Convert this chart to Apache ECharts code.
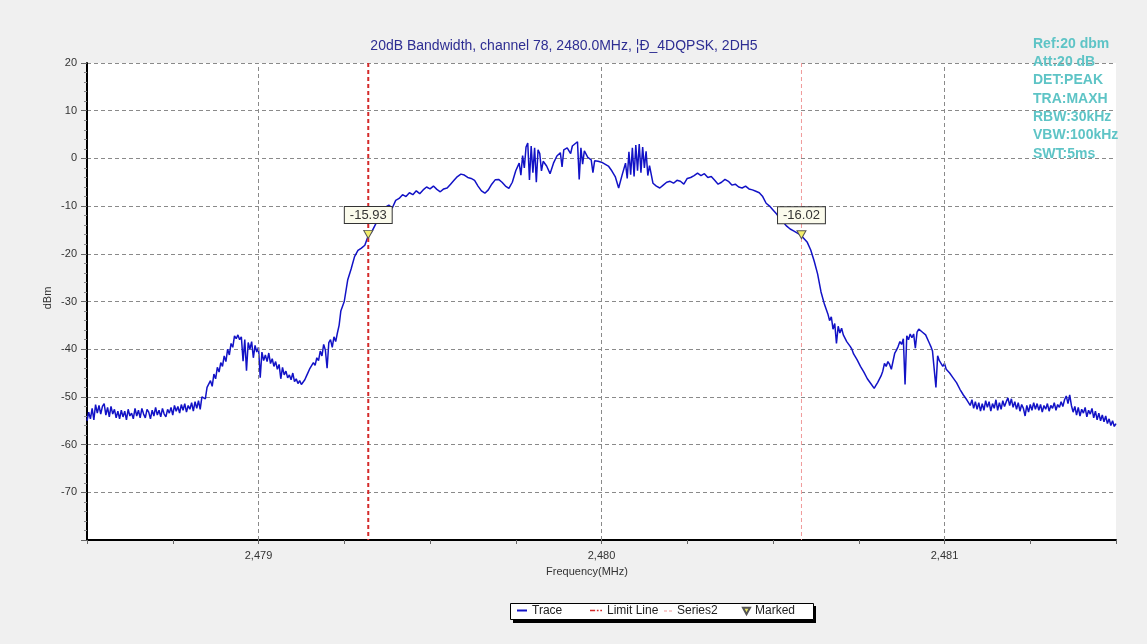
<!DOCTYPE html>
<html><head><meta charset="utf-8">
<script src="https://cdn.jsdelivr.net/npm/echarts@6/dist/echarts.min.js"></script>
<style>html,body{margin:0;padding:0;background:#f0f0f0}#c{width:1147px;height:644px}</style>
</head><body><div id="c"></div>
<script>
const titleText = '20dB Bandwidth, channel 78, 2480.0MHz, ¦Ð_4DQPSK, 2DH5';
const infoLines = ['Ref:20 dbm','Att:20 dB','DET:PEAK','TRA:MAXH','RBW:30kHz','VBW:100kHz','SWT:5ms'];
const xAxisName = 'Frequency(MHz)';
const yAxisName = 'dBm';
const gridFreqs = [2479, 2480, 2481];
const limitLine = [[2479.32, 20], [2479.32, -80]];
const series2Line = [[2480.583, 20], [2480.583, -80]];
const marked = [[2479.32, -15.93], [2480.583, -16.02]];
const trace = [
[2478.500,-55.0],[2478.505,-53.2],[2478.510,-54.6],[2478.515,-52.4],[2478.520,-54.8],[2478.525,-51.6],[2478.530,-53.4],[2478.535,-51.8],[2478.540,-53.6],[2478.545,-52.0],
[2478.550,-51.4],[2478.555,-53.8],[2478.560,-52.2],[2478.565,-54.2],[2478.570,-52.0],[2478.575,-53.6],[2478.580,-52.6],[2478.585,-54.4],[2478.590,-53.0],[2478.595,-54.6],
[2478.600,-52.8],[2478.605,-54.2],[2478.610,-53.0],[2478.615,-54.8],[2478.620,-52.6],[2478.625,-54.0],[2478.630,-53.4],[2478.635,-54.6],[2478.640,-52.4],[2478.645,-54.0],
[2478.650,-52.8],[2478.655,-54.4],[2478.660,-52.4],[2478.665,-53.6],[2478.670,-54.4],[2478.675,-52.6],[2478.680,-53.2],[2478.685,-54.6],[2478.690,-52.8],[2478.695,-54.0],
[2478.700,-52.2],[2478.705,-53.8],[2478.710,-52.8],[2478.715,-54.2],[2478.720,-52.4],[2478.725,-53.6],[2478.730,-54.2],[2478.735,-52.6],[2478.740,-53.4],[2478.745,-52.2],
[2478.750,-53.8],[2478.755,-51.8],[2478.760,-53.0],[2478.765,-52.0],[2478.770,-53.4],[2478.775,-51.6],[2478.780,-52.8],[2478.785,-51.4],[2478.790,-53.2],[2478.795,-51.8],
[2478.800,-52.6],[2478.805,-51.2],[2478.810,-53.0],[2478.815,-51.0],[2478.820,-52.4],[2478.825,-50.8],[2478.830,-52.6],[2478.835,-50.0],
[2478.840,-49.6],[2478.845,-50.4],[2478.850,-48.0],[2478.855,-47.6],[2478.860,-46.6],[2478.865,-47.8],[2478.870,-45.2],[2478.875,-46.2],[2478.880,-43.8],[2478.885,-44.8],
[2478.890,-42.8],[2478.895,-43.6],[2478.900,-41.4],[2478.905,-42.6],[2478.910,-40.0],[2478.915,-41.2],[2478.920,-38.8],[2478.925,-39.6],[2478.930,-37.2],[2478.935,-37.8],
[2478.940,-37.0],[2478.945,-38.0],[2478.950,-37.4],[2478.955,-42.5],[2478.960,-38.0],[2478.965,-44.5],[2478.970,-38.6],[2478.975,-40.0],[2478.980,-38.4],[2478.985,-41.8],
[2478.990,-39.2],[2478.995,-40.6],[2479.000,-39.6],[2479.005,-46.0],[2479.010,-40.6],[2479.015,-42.4],[2479.020,-41.2],[2479.025,-42.6],[2479.030,-40.8],[2479.035,-43.0],
[2479.040,-42.0],[2479.045,-43.6],[2479.050,-42.6],[2479.055,-44.2],[2479.060,-43.2],[2479.065,-46.2],[2479.070,-43.8],[2479.075,-45.4],[2479.080,-44.6],[2479.085,-46.0],
[2479.090,-45.4],[2479.095,-46.4],[2479.100,-45.0],[2479.105,-46.8],[2479.110,-46.2],[2479.115,-47.2],[2479.120,-46.6],[2479.125,-47.4],[2479.130,-47.0],[2479.135,-46.4],
[2479.140,-45.6],[2479.145,-44.8],[2479.150,-44.0],[2479.155,-43.6],[2479.160,-42.8],[2479.165,-43.4],[2479.170,-41.8],[2479.175,-42.4],[2479.180,-40.4],[2479.185,-41.4],
[2479.190,-39.0],[2479.195,-40.2],[2479.200,-44.0],[2479.205,-38.6],[2479.210,-38.0],[2479.215,-39.6],[2479.220,-37.4],[2479.225,-38.4],[2479.230,-36.6],[2479.235,-35.0],
[2479.240,-32.0],[2479.25,-30.0],
[2479.26,-25.5],[2479.27,-23.2],[2479.28,-20.6],[2479.29,-19.3],[2479.30,-18.8],[2479.31,-18.2],[2479.32,-16.2],[2479.33,-15.4],[2479.34,-14.0],[2479.35,-12.6],
[2479.36,-11.0],[2479.37,-10.2],[2479.38,-9.8],[2479.39,-10.4],[2479.40,-8.8],[2479.41,-8.4],[2479.42,-7.6],[2479.43,-8.0],[2479.44,-7.2],[2479.45,-7.6],
[2479.46,-6.8],[2479.47,-7.4],[2479.48,-6.6],[2479.49,-6.0],[2479.50,-6.4],[2479.51,-5.8],[2479.52,-6.5],[2479.53,-7.0],[2479.54,-6.4],[2479.55,-6.2],
[2479.56,-5.4],[2479.57,-4.6],[2479.58,-3.8],[2479.59,-3.3],[2479.60,-3.5],[2479.61,-4.0],[2479.62,-4.2],[2479.63,-4.6],[2479.64,-5.8],[2479.65,-6.8],
[2479.66,-7.3],[2479.67,-6.6],[2479.68,-5.4],[2479.69,-4.5],[2479.70,-4.4],[2479.71,-5.0],[2479.72,-5.8],[2479.73,-6.3],[2479.74,-5.0],[2479.75,-2.6],
[2479.76,-1.0],[2479.765,-3.5],[2479.77,0.6],[2479.775,-2.0],[2479.78,2.4],[2479.785,3.2],[2479.79,-4.5],[2479.795,2.6],[2479.80,-3.0],[2479.805,2.2],[2479.81,-5.0],[2479.815,1.8],
[2479.82,1.0],[2479.825,-2.6],[2479.83,-0.6],[2479.84,-1.6],[2479.85,-3.2],[2479.86,-1.0],[2479.87,0.5],[2479.88,1.2],[2479.885,-1.8],[2479.89,1.8],[2479.90,2.2],[2479.91,1.0],
[2479.915,2.6],[2479.92,2.8],[2479.93,3.5],[2479.935,-4.4],[2479.94,2.2],[2479.945,-1.2],[2479.95,1.6],[2479.96,0.2],[2479.97,-0.3],[2479.975,-3.0],[2479.98,-0.5],
[2479.99,-0.6],[2480.00,-0.8],[2480.01,-1.2],[2480.02,-1.6],[2480.03,-2.6],[2480.04,-3.8],[2480.05,-6.2],[2480.06,-3.5],[2480.07,-1.0],[2480.075,-4.2],[2480.08,1.4],[2480.085,-3.4],
[2480.09,2.2],[2480.095,-3.8],[2480.10,2.8],[2480.105,-2.6],[2480.11,3.0],[2480.115,-3.0],[2480.12,2.4],[2480.125,-2.0],[2480.13,1.5],[2480.135,-3.6],[2480.14,-1.5],
[2480.15,-5.2],[2480.16,-5.8],[2480.17,-6.2],[2480.18,-5.6],[2480.19,-5.0],[2480.20,-4.8],[2480.21,-5.2],[2480.22,-4.6],[2480.23,-4.8],[2480.24,-5.4],
[2480.25,-4.2],[2480.26,-4.0],[2480.27,-3.6],[2480.28,-3.1],[2480.29,-3.6],[2480.30,-3.2],[2480.31,-4.0],[2480.32,-3.8],[2480.33,-4.6],[2480.34,-5.4],
[2480.35,-5.0],[2480.36,-4.4],[2480.37,-4.8],[2480.38,-5.6],[2480.39,-5.4],[2480.40,-6.0],[2480.41,-6.2],[2480.42,-5.8],[2480.43,-6.4],[2480.44,-6.6],
[2480.45,-6.9],[2480.46,-7.2],[2480.47,-8.0],[2480.48,-9.4],[2480.49,-10.0],[2480.50,-10.8],[2480.51,-11.6],[2480.52,-12.6],[2480.53,-13.4],[2480.54,-14.2],
[2480.55,-14.8],[2480.56,-15.2],[2480.57,-15.6],[2480.58,-16.0],[2480.59,-16.8],[2480.60,-17.6],[2480.61,-19.2],[2480.62,-21.5],[2480.63,-24.2],[2480.64,-28.0],
[2480.65,-30.6],
[2480.660,-32.6],[2480.665,-34.0],[2480.670,-33.2],[2480.675,-35.8],[2480.680,-34.6],[2480.685,-38.8],[2480.690,-35.2],[2480.695,-36.6],[2480.700,-35.6],[2480.705,-37.0],
[2480.710,-37.2],[2480.715,-38.4],[2480.720,-38.6],[2480.725,-39.4],[2480.730,-40.0],[2480.735,-41.0],[2480.740,-41.2],[2480.745,-42.2],[2480.750,-42.4],[2480.755,-43.6],
[2480.760,-44.0],[2480.765,-44.8],[2480.770,-45.2],[2480.775,-46.2],[2480.780,-46.4],[2480.785,-47.2],[2480.790,-47.2],[2480.795,-48.2],[2480.800,-47.6],[2480.805,-47.0],
[2480.810,-46.6],[2480.815,-45.6],[2480.820,-44.6],[2480.825,-43.0],[2480.830,-43.6],[2480.835,-42.6],[2480.840,-43.2],[2480.845,-44.2],[2480.850,-43.8],[2480.855,-40.8],
[2480.860,-40.2],[2480.865,-39.4],[2480.870,-38.4],[2480.875,-39.0],[2480.880,-37.8],[2480.885,-47.4],[2480.890,-37.2],[2480.895,-38.0],[2480.900,-36.8],[2480.905,-37.6],
[2480.910,-36.8],[2480.915,-39.8],[2480.920,-36.4],[2480.925,-35.8],[2480.930,-35.4],[2480.935,-36.4],[2480.940,-36.0],[2480.945,-37.0],[2480.950,-37.4],[2480.955,-38.6],
[2480.960,-39.4],[2480.965,-40.4],[2480.970,-40.8],[2480.975,-48.0],[2480.980,-41.4],[2480.985,-42.4],[2480.990,-42.4],[2480.995,-43.6],[2481.000,-43.0],[2481.005,-44.2],
[2481.010,-43.8],[2481.015,-45.0],[2481.020,-44.8],[2481.025,-46.0],[2481.030,-45.6],[2481.035,-47.0],[2481.040,-47.2],[2481.045,-48.4],[2481.050,-48.4],[2481.055,-49.6],
[2481.060,-49.4],[2481.065,-50.6],
[2481.070,-50.2],[2481.075,-51.8],[2481.080,-50.6],[2481.085,-52.4],[2481.090,-51.0],[2481.095,-52.6],[2481.100,-51.2],[2481.105,-53.0],[2481.110,-51.4],[2481.115,-52.8],
[2481.120,-50.8],[2481.125,-52.2],[2481.130,-51.0],[2481.135,-53.0],[2481.140,-51.4],[2481.145,-52.4],[2481.150,-50.6],[2481.155,-52.8],[2481.160,-51.2],[2481.165,-52.6],
[2481.170,-50.8],[2481.175,-52.0],[2481.180,-51.0],[2481.185,-50.2],[2481.190,-51.8],[2481.195,-50.4],[2481.200,-52.2],[2481.205,-51.0],[2481.210,-52.6],[2481.215,-51.2],
[2481.220,-53.0],[2481.225,-51.6],[2481.230,-52.4],[2481.235,-54.0],[2481.240,-51.8],[2481.245,-53.2],[2481.250,-51.6],[2481.255,-52.8],[2481.260,-51.2],[2481.265,-52.6],
[2481.270,-51.4],[2481.275,-52.8],[2481.280,-51.6],[2481.285,-53.2],[2481.290,-51.8],[2481.295,-52.6],[2481.300,-51.4],[2481.305,-53.0],[2481.310,-51.8],[2481.315,-52.4],
[2481.320,-51.2],[2481.325,-52.8],[2481.330,-51.6],[2481.335,-52.2],[2481.340,-51.0],[2481.345,-52.0],[2481.350,-50.6],[2481.355,-49.8],[2481.360,-51.4],[2481.365,-49.6],
[2481.370,-51.8],[2481.375,-53.2],[2481.380,-52.0],[2481.385,-53.8],[2481.390,-52.2],[2481.395,-54.0],[2481.400,-52.6],[2481.405,-53.4],[2481.410,-52.2],[2481.415,-54.2],
[2481.420,-52.8],[2481.425,-53.6],[2481.430,-52.4],[2481.435,-54.4],[2481.440,-53.0],[2481.445,-54.8],[2481.450,-53.4],[2481.455,-55.0],[2481.460,-53.8],[2481.465,-55.2],
[2481.470,-54.0],[2481.475,-55.6],[2481.480,-54.6],[2481.485,-56.0],[2481.490,-55.0],[2481.495,-56.2],[2481.500,-55.6]
];

const FONT = 'Arial, "Liberation Sans", sans-serif';
const chart = echarts.init(document.getElementById('c'), null, {renderer: 'canvas'});
function fmtFreq(v) {
  if (Math.abs(v - Math.round(v)) > 1e-6) return '';
  const s = String(Math.round(v));
  return s.slice(0, s.length - 3) + ',' + s.slice(s.length - 3);
}
const legendBase = {padding: 0, textStyle: {fontFamily: FONT, fontSize: 12, color: '#222'}, selectedMode: false, z: 10};
const option = {
  backgroundColor: '#f0f0f0',
  animation: false,
  grid: {left: 87, top: 63, right: 31, bottom: 104, show: true, backgroundColor: '#ffffff', borderWidth: 0, containLabel: false},
  xAxis: {
    type: 'value', min: 2478.5, max: 2481.5, interval: 0.25,
    axisLine: {show: true, onZero: false, lineStyle: {color: '#000', width: 2}},
    axisTick: {show: true, length: 4, lineStyle: {color: '#666'}},
    axisLabel: {formatter: fmtFreq, fontFamily: FONT, fontSize: 11, color: '#333', margin: 10, showMinLabel: true, showMaxLabel: true},
    splitLine: {show: false}
  },
  yAxis: {
    type: 'value', min: -80, max: 20, interval: 10,
    axisLine: {show: true, onZero: false, lineStyle: {color: '#000', width: 2}},
    axisTick: {show: true, length: 6, lineStyle: {color: '#666'}},
    minorTick: {show: true, splitNumber: 5, length: 3, lineStyle: {color: '#888'}},
    axisLabel: {formatter: v => (v === -80 ? '' : String(v)), fontFamily: FONT, fontSize: 11, color: '#333', margin: 10},
    splitLine: {show: true, lineStyle: {color: '#8a8a8a', type: [4, 3], width: 1}}
  },
  legend: [
    Object.assign({}, legendBase, {data: [{name: 'Trace', icon: 'path://M0,0H10V2H0Z'}], left: 517, top: 604.5, itemWidth: 10, itemHeight: 2}),
    Object.assign({}, legendBase, {data: [{name: 'Limit Line', icon: 'path://M0,0H6V2H0ZM8,0H10V2H8ZM12,0H14V2H12Z'}], left: 590, top: 604.5, itemWidth: 12, itemHeight: 2}),
    Object.assign({}, legendBase, {data: [{name: 'Series2', icon: 'path://M0,0H3V1H0ZM5,0H8V1H5Z'}], left: 664, top: 605, itemWidth: 8, itemHeight: 1}),
    Object.assign({}, legendBase, {data: [{name: 'Marked', icon: 'path://M0,0L10,0L5,9Z'}], left: 742, top: 605, itemWidth: 7, itemHeight: 7})
  ],
  graphic: [
    {type: 'text', style: {text: titleText, x: 564, y: 46, align: 'center', verticalAlign: 'middle', font: '14px ' + FONT, fill: '#2d2d92'}, z: 10},
    ...infoLines.map((t, i) => ({type: 'text', style: {text: t, x: 1033, y: 44 + i * 18.3, align: 'left', verticalAlign: 'middle', font: 'bold 14px ' + FONT, fill: '#5ec4c6'}, z: 10})),
    {type: 'text', style: {text: xAxisName, x: 587, y: 572, align: 'center', verticalAlign: 'middle', font: '11px ' + FONT, fill: '#333'}, z: 10},
    {type: 'text', rotation: Math.PI / 2, x: 48, y: 298, style: {text: yAxisName, x: 0, y: 0, align: 'center', verticalAlign: 'middle', font: '11px ' + FONT, fill: '#333'}, z: 10},
    {type: 'rect', shape: {x: 513, y: 606, width: 303, height: 17}, style: {fill: '#000'}, z: 1},
    {type: 'rect', shape: {x: 510.5, y: 603.5, width: 303, height: 16}, style: {fill: '#fff', stroke: '#000', lineWidth: 1}, z: 2}
  ],
  series: [
    {
      name: 'grid', type: 'line', data: [], silent: true, z: 1,
      markLine: {silent: true, symbol: ['none', 'none'], label: {show: false}, animation: false,
        lineStyle: {color: '#8a8a8a', type: [4, 3], width: 1},
        data: gridFreqs.map(f => ({xAxis: f}))}
    },
    {
      name: 'Trace', type: 'line', data: trace, showSymbol: false, symbol: 'none', sampling: false, z: 3,
      lineStyle: {color: '#1212c6', width: 1.5}, itemStyle: {color: '#1212c6'}
    },
    {
      name: 'Limit Line', type: 'line', data: limitLine, showSymbol: false, symbol: 'none', z: 4,
      lineStyle: {color: '#d42a2a', width: 2, type: [4, 3]}, itemStyle: {color: '#d42a2a'}
    },
    {
      name: 'Series2', type: 'line', data: series2Line, showSymbol: false, symbol: 'none', z: 4,
      lineStyle: {color: '#f09a9a', width: 1, type: [4, 3]}, itemStyle: {color: '#f09a9a'}
    },
    {
      name: 'Marked', type: 'scatter', data: marked, symbol: 'path://M0,0L10,0L5,9Z', symbolSize: [9, 8], z: 6,
      itemStyle: {color: '#f3ee6c', borderColor: '#555', borderWidth: 1, opacity: 1},
      label: {show: true, position: 'top', distance: 7, formatter: p => p.value[1].toFixed(2),
        fontFamily: FONT, fontSize: 13, color: '#333', backgroundColor: '#fbfbec', borderColor: '#333', borderWidth: 1, padding: [2, 5, 1, 5]}
    }
  ]
};
chart.setOption(option);
</script>
</body></html>
